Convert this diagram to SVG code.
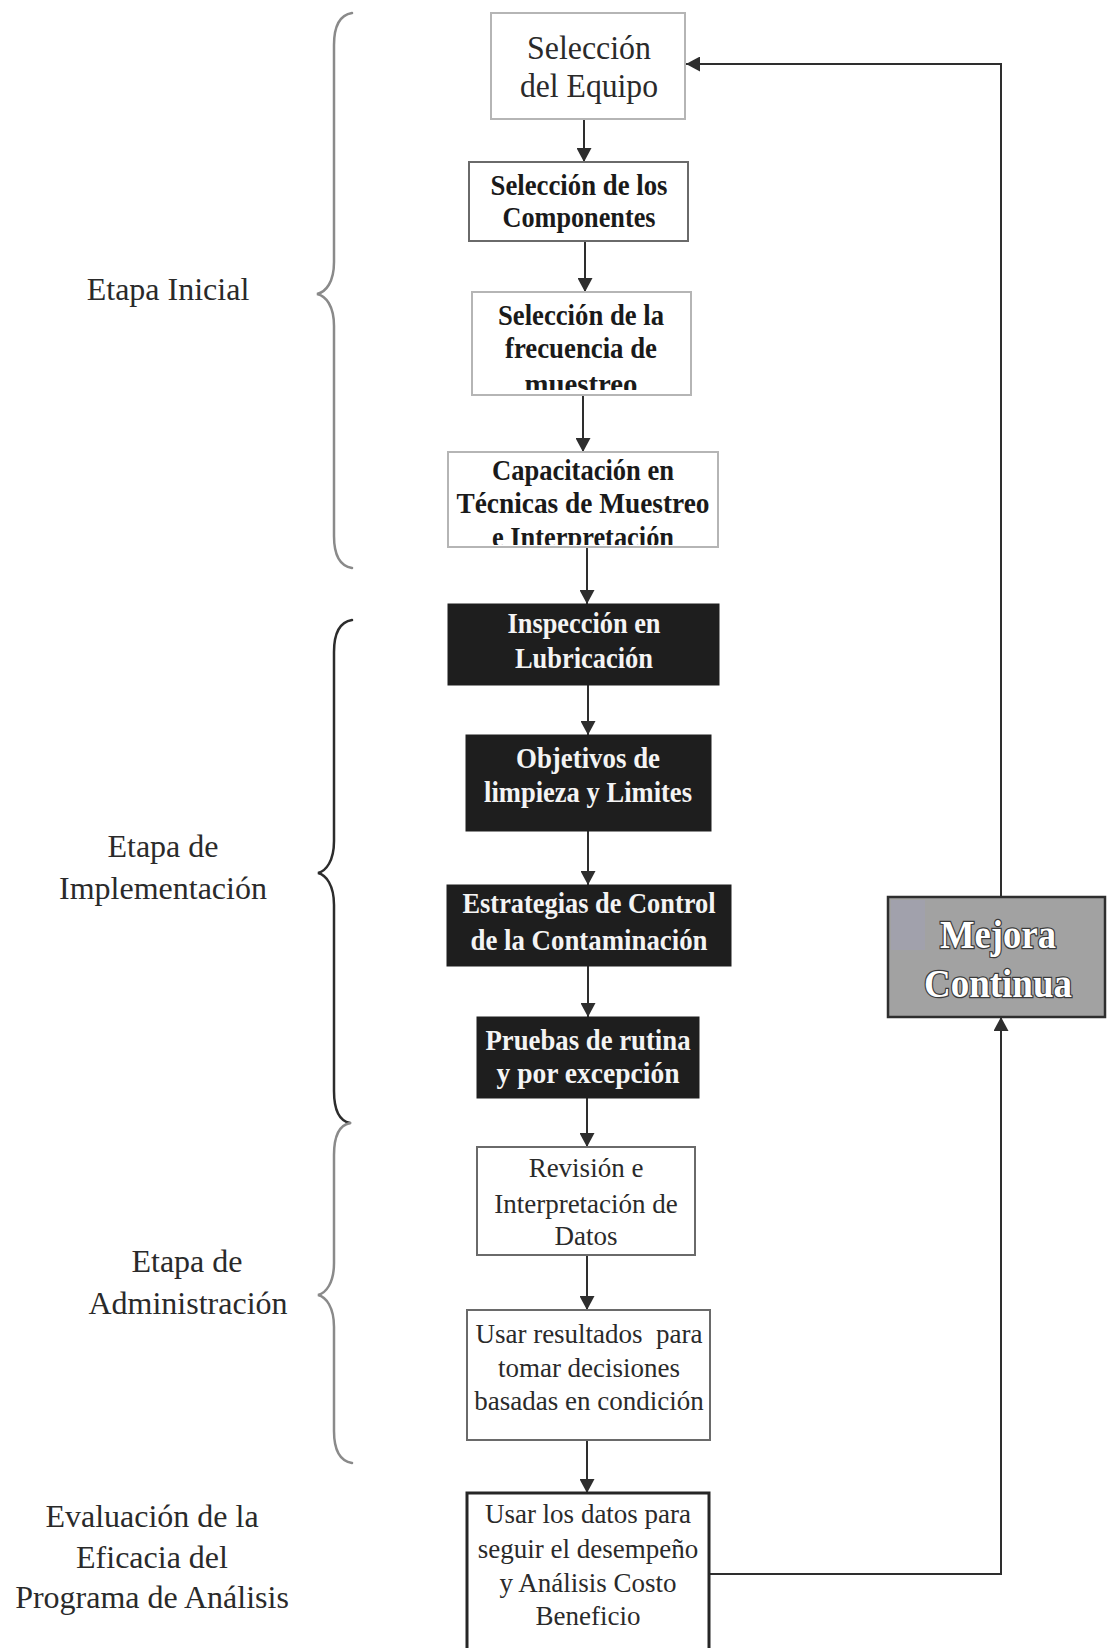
<svg xmlns="http://www.w3.org/2000/svg" width="1108" height="1648" viewBox="0 0 1108 1648">
  <style>
    .lbl { font-family: "Liberation Serif", "Times New Roman", serif; font-size: 32px; fill: #2a2a2a; text-anchor: middle; }
    .reg { font-family: "Liberation Serif", "Times New Roman", serif; font-size: 27px; fill: #2a2a2a; text-anchor: middle; }
    .big { font-family: "Liberation Serif", "Times New Roman", serif; font-size: 34px; fill: #2a2a2a; text-anchor: middle; }
    .bld { font-family: "Liberation Serif", "Times New Roman", serif; font-size: 29px; font-weight: bold; fill: #1a1a1a; text-anchor: middle; }
    .wht { font-family: "Liberation Serif", "Times New Roman", serif; font-size: 30px; font-weight: bold; fill: #f4f4f4; text-anchor: middle; }
    .mej { font-family: "Liberation Serif", "Times New Roman", serif; font-size: 39px; font-weight: bold; fill: #ffffff; stroke: #3a3a3a; stroke-width: 2.5px; paint-order: stroke; text-anchor: middle; }
    .lite { fill: #ffffff; stroke: #b5b5b5; stroke-width: 2; }
    .mid { fill: #ffffff; stroke: #6a6a6a; stroke-width: 2; }
    .dark { fill: #1e1e1e; stroke: #1e1e1e; stroke-width: 1; }
    .conn { fill: none; stroke: #2e2e2e; stroke-width: 2; }
    .brace { fill: none; stroke-width: 2.5; stroke-linecap: round; }
  </style>
  <defs>
    <marker id="arrow" markerUnits="userSpaceOnUse" markerWidth="15" markerHeight="15" refX="14" refY="7.5" orient="auto">
      <path d="M0,0 L14,7.5 L0,15 z" fill="#2e2e2e"/>
    </marker>
    <clipPath id="clip3"><rect x="472" y="292" width="219" height="98"/></clipPath>
    <clipPath id="clip4"><rect x="448" y="452" width="270" height="93"/></clipPath>
  </defs>

  <rect width="1108" height="1648" fill="#ffffff"/>

  <!-- stage braces -->
  <g id="braces">
    <path class="brace" stroke="#8a8a8a" d="M352,13 C340,15 334,25 334,45 L334,262 C334,282 326,292 317,294 C326,296 334,306 334,326 L334,536 C334,556 340,566 352,568"/>
    <path class="brace" stroke="#2c2c2c" d="M352,620 C340,622 334,632 334,652 L334,841 C334,861 326,871 318,873 C326,875 334,885 334,905 L334,1091 C334,1111 340,1121 350,1123"/>
    <path class="brace" stroke="#8a8a8a" d="M350,1123 C340,1125 334,1135 334,1155 L334,1263 C334,1283 326,1293 318,1295 C326,1297 334,1307 334,1327 L334,1431 C334,1451 340,1461 352,1463"/>
  </g>

  <!-- stage labels -->
  <g id="labels">
    <text class="lbl" x="168" y="300">Etapa Inicial</text>
    <text class="lbl" x="163" y="857">Etapa de</text>
    <text class="lbl" x="163" y="899">Implementación</text>
    <text class="lbl" x="187" y="1272">Etapa de</text>
    <text class="lbl" x="188" y="1314">Administración</text>
    <text class="lbl" x="152" y="1527">Evaluación de la</text>
    <text class="lbl" x="152" y="1568">Eficacia del</text>
    <text class="lbl" x="152" y="1608">Programa de Análisis</text>
  </g>

  <!-- connectors -->
  <g id="connectors">
    <line class="conn" x1="584" y1="119" x2="584" y2="162" marker-end="url(#arrow)"/>
    <line class="conn" x1="585" y1="241" x2="585" y2="292" marker-end="url(#arrow)"/>
    <line class="conn" x1="583" y1="395" x2="583" y2="452" marker-end="url(#arrow)"/>
    <line class="conn" x1="587" y1="547" x2="587" y2="604" marker-end="url(#arrow)"/>
    <line class="conn" x1="588" y1="685" x2="588" y2="735" marker-end="url(#arrow)"/>
    <line class="conn" x1="588" y1="831" x2="588" y2="885" marker-end="url(#arrow)"/>
    <line class="conn" x1="588" y1="966" x2="588" y2="1017" marker-end="url(#arrow)"/>
    <line class="conn" x1="587" y1="1098" x2="587" y2="1147" marker-end="url(#arrow)"/>
    <line class="conn" x1="587" y1="1255" x2="587" y2="1310" marker-end="url(#arrow)"/>
    <line class="conn" x1="587" y1="1440" x2="587" y2="1493" marker-end="url(#arrow)"/>
    <path class="conn" d="M709,1574 L1001,1574 L1001,1017" marker-end="url(#arrow)"/>
    <path class="conn" d="M1001,897 L1001,64 L686,64" marker-end="url(#arrow)"/>
  </g>

  <!-- process steps -->
  <g id="n-equipo">
    <rect class="lite" x="491" y="13" width="194" height="106"/>
    <text class="big" x="589" y="59" textLength="124" lengthAdjust="spacingAndGlyphs">Selección</text>
    <text class="big" x="589" y="97" textLength="138" lengthAdjust="spacingAndGlyphs">del Equipo</text>
  </g>
  <g id="n-componentes">
    <rect class="mid" x="469" y="162" width="219" height="79"/>
    <text class="bld" x="579" y="195" textLength="177" lengthAdjust="spacingAndGlyphs">Selección de los</text>
    <text class="bld" x="579" y="227" textLength="153" lengthAdjust="spacingAndGlyphs">Componentes</text>
  </g>
  <g id="n-frecuencia">
    <rect class="lite" x="472" y="292" width="219" height="103"/>
    <g clip-path="url(#clip3)">
      <text class="bld" x="581" y="325" textLength="166" lengthAdjust="spacingAndGlyphs">Selección de la</text>
      <text class="bld" x="581" y="358" textLength="152" lengthAdjust="spacingAndGlyphs">frecuencia de</text>
      <text class="bld" x="581" y="394" textLength="113" lengthAdjust="spacingAndGlyphs">muestreo</text>
    </g>
  </g>
  <g id="n-capacitacion">
    <rect class="lite" x="448" y="452" width="270" height="95" stroke="#cfcfcf"/>
    <g clip-path="url(#clip4)">
      <text class="bld" x="583" y="480" textLength="182" lengthAdjust="spacingAndGlyphs">Capacitación en</text>
      <text class="bld" x="583" y="513" textLength="253" lengthAdjust="spacingAndGlyphs">Técnicas de Muestreo</text>
      <text class="bld" x="583" y="547" textLength="182" lengthAdjust="spacingAndGlyphs">e Interpretación</text>
    </g>
  </g>
  <g id="n-inspeccion">
    <rect class="dark" x="448" y="604" width="271" height="81"/>
    <text class="wht" x="584" y="633" textLength="153" lengthAdjust="spacingAndGlyphs">Inspección en</text>
    <text class="wht" x="584" y="668" textLength="138" lengthAdjust="spacingAndGlyphs">Lubricación</text>
  </g>
  <g id="n-objetivos">
    <rect class="dark" x="466" y="735" width="245" height="96"/>
    <text class="wht" x="588" y="768" textLength="144" lengthAdjust="spacingAndGlyphs">Objetivos de</text>
    <text class="wht" x="588" y="802" textLength="208" lengthAdjust="spacingAndGlyphs">limpieza y Limites</text>
  </g>
  <g id="n-estrategias">
    <rect class="dark" x="447" y="885" width="284" height="81"/>
    <text class="wht" x="589" y="913" textLength="253" lengthAdjust="spacingAndGlyphs">Estrategias de Control</text>
    <text class="wht" x="589" y="950" textLength="237" lengthAdjust="spacingAndGlyphs">de la Contaminación</text>
  </g>
  <g id="n-pruebas">
    <rect class="dark" x="477" y="1017" width="222" height="81"/>
    <text class="wht" x="588" y="1050" textLength="205" lengthAdjust="spacingAndGlyphs">Pruebas de rutina</text>
    <text class="wht" x="588" y="1083" textLength="183" lengthAdjust="spacingAndGlyphs">y por excepción</text>
  </g>
  <g id="n-revision">
    <rect class="mid" x="477" y="1147" width="218" height="108" stroke="#7a7a7a"/>
    <text class="reg" x="586" y="1177">Revisión e</text>
    <text class="reg" x="586" y="1213">Interpretación de</text>
    <text class="reg" x="586" y="1245">Datos</text>
  </g>
  <g id="n-resultados">
    <rect class="mid" x="467" y="1310" width="243" height="130" stroke="#8a8a8a"/>
    <text class="reg" x="589" y="1343">Usar resultados&#160; para</text>
    <text class="reg" x="589" y="1377">tomar decisiones</text>
    <text class="reg" x="589" y="1410">basadas en condición</text>
  </g>
  <g id="n-evaluacion">
    <rect x="467" y="1493" width="242" height="170" fill="#ffffff" stroke="#262626" stroke-width="3"/>
    <text class="reg" x="588" y="1523">Usar los datos para</text>
    <text class="reg" x="588" y="1558">seguir el desempeño</text>
    <text class="reg" x="588" y="1592">y Análisis Costo</text>
    <text class="reg" x="588" y="1625">Beneficio</text>
  </g>
  <g id="n-mejora">
    <rect x="888" y="897" width="217" height="120" fill="#a2a2a2" stroke="#2e2e2e" stroke-width="2.5"/>
    <rect x="891" y="900" width="34" height="50" fill="#a0a0c0" opacity="0.35"/>
    <text class="mej" x="998" y="948" textLength="116" lengthAdjust="spacingAndGlyphs">Mejora</text>
    <text class="mej" x="998" y="997" textLength="148" lengthAdjust="spacingAndGlyphs">Continua</text>
  </g>
</svg>
